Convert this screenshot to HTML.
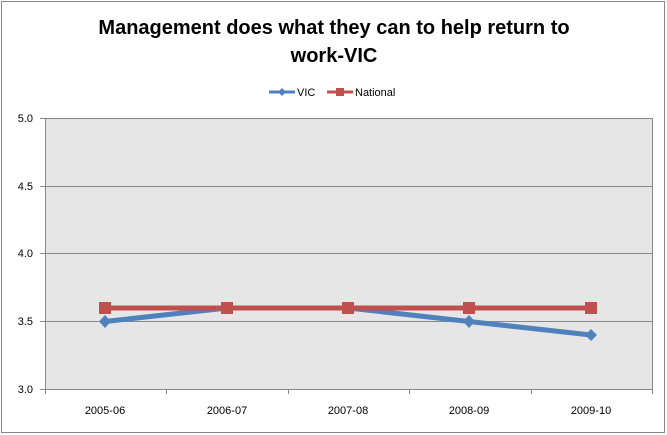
<!DOCTYPE html>
<html><head><style>body{margin:0;background:#fff}svg{display:block}</style></head><body>
<svg width="667" height="435" xmlns="http://www.w3.org/2000/svg" font-family="'Liberation Sans', sans-serif">
<rect x="1.5" y="1.5" width="663" height="431" fill="#fff" stroke="#888" stroke-width="1"/>
<text x="334" y="34" text-anchor="middle" font-size="20" font-weight="bold">Management does what they can to help return to</text>
<text x="334" y="62" text-anchor="middle" font-size="20" font-weight="bold">work-VIC</text>
<g stroke-width="3"><line x1="269" y1="92" x2="295" y2="92" stroke="#4f81bd"/><line x1="327" y1="92" x2="353" y2="92" stroke="#c0504d"/></g>
<polygon points="282,88 286,92 282,96 278,92" fill="#4f81bd"/>
<rect x="336" y="88" width="8" height="8" fill="#c0504d"/>
<text x="297" y="96" font-size="11">VIC</text>
<text x="355" y="96" font-size="11">National</text>
<rect x="45.5" y="118.5" width="607" height="271" fill="#e6e6e6" stroke="#888"/>
<g stroke="#888" stroke-width="1">
<line x1="45" y1="186.5" x2="652" y2="186.5"/><line x1="45" y1="253.5" x2="652" y2="253.5"/><line x1="45" y1="321.5" x2="652" y2="321.5"/>
<line x1="40" y1="118.5" x2="45" y2="118.5"/><line x1="40" y1="186.5" x2="45" y2="186.5"/><line x1="40" y1="253.5" x2="45" y2="253.5"/><line x1="40" y1="321.5" x2="45" y2="321.5"/><line x1="40" y1="389.5" x2="45" y2="389.5"/>
<line x1="45.5" y1="389" x2="45.5" y2="394"/><line x1="166.5" y1="389" x2="166.5" y2="394"/><line x1="288.5" y1="389" x2="288.5" y2="394"/><line x1="409.5" y1="389" x2="409.5" y2="394"/><line x1="531.5" y1="389" x2="531.5" y2="394"/><line x1="652.5" y1="389" x2="652.5" y2="394"/>
</g>
<g font-size="11" text-anchor="end"><text x="33" y="122">5.0</text><text x="33" y="190">4.5</text><text x="33" y="257">4.0</text><text x="33" y="325">3.5</text><text x="33" y="393">3.0</text></g>
<g font-size="11" text-anchor="middle"><text x="105" y="414">2005-06</text><text x="227" y="414">2006-07</text><text x="348" y="414">2007-08</text><text x="469" y="414">2008-09</text><text x="591" y="414">2009-10</text></g>
<polyline points="105,321.5 227,308 348,308 469,321.5 591,335" fill="none" stroke="#4f81bd" stroke-width="5"/>
<g fill="#4f81bd"><polygon points="105,315 111,321.5 105,328 99,321.5"/><polygon points="469,315 475,321.5 469,328 463,321.5"/><polygon points="591,329 597,335 591,341 585,335"/></g>
<polyline points="105,308 227,308 348,308 469,308 591,308" fill="none" stroke="#c0504d" stroke-width="5"/>
<g fill="#c0504d"><rect x="99" y="302" width="12" height="12"/><rect x="221" y="302" width="12" height="12"/><rect x="342" y="302" width="12" height="12"/><rect x="463" y="302" width="12" height="12"/><rect x="585" y="302" width="12" height="12"/></g>
</svg>
</body></html>
